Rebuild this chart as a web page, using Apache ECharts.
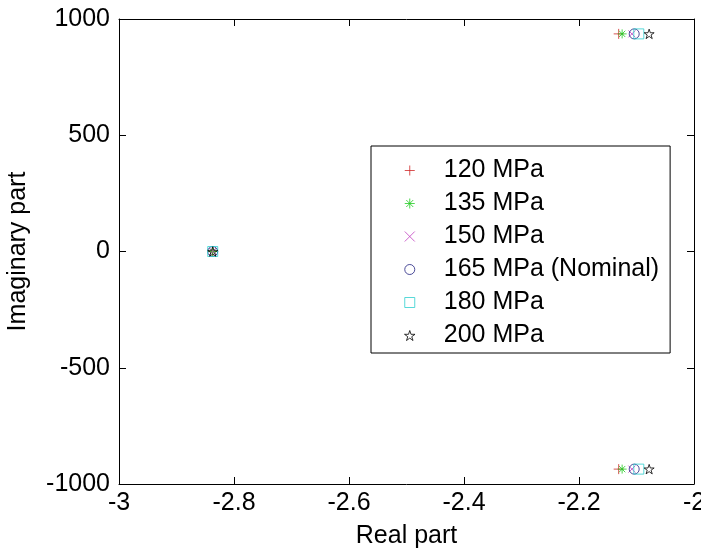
<!DOCTYPE html>
<html>
<head>
<meta charset="utf-8">
<script src="https://cdn.jsdelivr.net/npm/echarts@6/dist/echarts.min.js"></script>
<style>
html,body{margin:0;padding:0;background:#fff;}
#chart{width:701px;height:554px;}
</style>
</head>
<body>
<div id="chart"></div>
<script>
// ---- data ----
const seriesNames = ['120 MPa', '135 MPa', '150 MPa', '165 MPa (Nominal)', '180 MPa', '200 MPa'];
const realReal = [-2.837, -2.837, -2.837, -2.837, -2.837, -2.837];   // real root, real part
const realImag = [0, 0, 0, 0, 0, 0];                                // real root, imag part
const cplxReal = [-2.131, -2.125, -2.108, -2.104, -2.096, -2.078];  // complex pair, real part
const cplxImag = [936, 936, 936, 936, 936, 936];                    // complex pair, +imag
const xTicks = [-3, -2.8, -2.6, -2.4, -2.2, -2];
const yTicks = [-1000, -500, 0, 500, 1000];

// ---- styles ----
const colors = ['#d02828', '#22cc22', '#c040c0', '#202080', '#30d0d0', '#000000'];
const symbols = [
  'path://M5,0L5,10M0,5L10,5',
  'path://M5,0L5,10M0,5L10,5M1.5,1.5L8.5,8.5M1.5,8.5L8.5,1.5',
  'path://M0,0L10,10M0,10L10,0',
  'circle',
  'path://M0,0L10,0L10,10L0,10Z',
  'path://M5,0L6.12,3.45L9.76,3.45L6.82,5.59L7.94,9.05L5,6.91L2.06,9.05L3.18,5.59L0.24,3.45L3.88,3.45Z'
];
const sizes = [10, 9, 7, 10, 10, 10];

const font = 'Liberation Sans, Arial, Helvetica, sans-serif';
const fs = 25;

const series = seriesNames.map((name, i) => ({
  name: name,
  type: 'scatter',
  xAxisIndex: 0,
  yAxisIndex: 0,
  symbol: symbols[i],
  symbolSize: sizes[i],
  symbolKeepAspect: true,
  itemStyle: { color: 'rgba(0,0,0,0)', borderColor: colors[i], borderWidth: 1 },
  emphasis: { disabled: true },
  data: [
    [realReal[i], realImag[i]],
    [cplxReal[i], cplxImag[i]],
    [cplxReal[i], -cplxImag[i]]
  ],
  z: i + 2
}));

const chart = echarts.init(document.getElementById('chart'), null, { renderer: 'canvas' });
const axisCommon = {
  axisLine: { show: true, onZero: false, lineStyle: { color: '#000', width: 1 } },
  axisTick: { show: true, inside: true, length: 7, lineStyle: { color: '#000' } },
  splitLine: { show: false }
};
chart.setOption({
  animation: false,
  backgroundColor: '#fff',
  grid: { left: 119, top: 19, right: 7, bottom: 70, containLabel: false, outerBoundsMode: 'none' },
  xAxis: [
    Object.assign({
      type: 'value', min: xTicks[0], max: xTicks[xTicks.length - 1], interval: 0.2,
      position: 'bottom',
      name: 'Real part', nameLocation: 'middle', nameGap: 40,
      nameTextStyle: { color: '#000', fontSize: fs, fontFamily: font },
      axisLabel: { color: '#000', fontSize: fs, fontFamily: font, margin: 7,
        formatter: v => String(Math.round(v * 10) / 10) }
    }, axisCommon),
    Object.assign({
      type: 'value', min: xTicks[0], max: xTicks[xTicks.length - 1], interval: 0.2,
      position: 'top', axisLabel: { show: false }
    }, axisCommon)
  ],
  yAxis: [
    Object.assign({
      type: 'value', min: yTicks[0], max: yTicks[yTicks.length - 1], interval: 500,
      position: 'left',
      name: 'Imaginary part', nameLocation: 'middle', nameGap: 88,
      nameTextStyle: { color: '#000', fontSize: fs, fontFamily: font },
      axisLabel: { color: '#000', fontSize: fs, fontFamily: font, margin: 9,
        formatter: v => String(v) }
    }, axisCommon),
    Object.assign({
      type: 'value', min: yTicks[0], max: yTicks[yTicks.length - 1], interval: 500,
      position: 'right', axisLabel: { show: false }
    }, axisCommon)
  ],
  legend: {
    show: true,
    orient: 'vertical',
    left: 371,
    top: 146,
    backgroundColor: '#fff',
    borderColor: '#000',
    borderWidth: 1,
    borderRadius: 0,
    padding: [12, 11, 5, 33],
    itemWidth: 58,
    itemHeight: 10,
    itemGap: 8,
    symbolKeepAspect: true,
    selectedMode: false,
    textStyle: { color: '#000', fontSize: fs, fontFamily: font, lineHeight: 25 },
    data: seriesNames.map((n, i) => ({
      name: n,
      icon: symbols[i],
      itemStyle: { color: 'rgba(0,0,0,0)', borderColor: colors[i], borderWidth: 1 }
    }))
  },
  series: series
});
</script>
</body>
</html>
